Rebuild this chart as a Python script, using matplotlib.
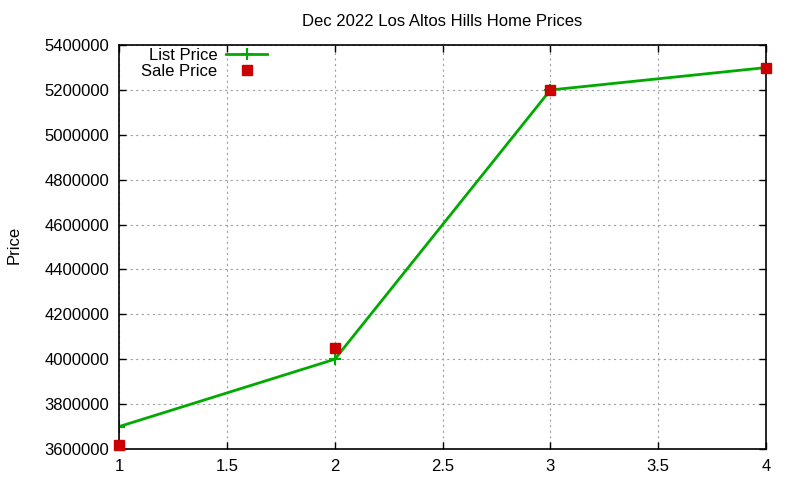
import matplotlib
matplotlib.use("Agg")
import matplotlib.pyplot as plt

x = [1, 2, 3, 4]
list_price = [3700000, 4000000, 5200000, 5300000]
sale_price = [3620000, 4050000, 5200000, 5300000]
yticks = list(range(3600000, 5400001, 200000))
xticks = [1, 1.5, 2, 2.5, 3, 3.5, 4]

plt.rcParams['font.family'] = ['Liberation Sans', 'DejaVu Sans']

fig = plt.figure(figsize=(8, 4.8), dpi=100)
ax = fig.add_axes([0.149, 0.0646, 0.8085, 0.8414])

ax.plot(x, list_price, color="#00aa00", linewidth=2, marker="+", markersize=8,
        markeredgewidth=1.5, label="List Price")
ax.plot(x, sale_price, color="#cc0000", linestyle="none", marker="s", markersize=7,
        label="Sale Price", clip_on=False, zorder=5)

ax.set_xlim(1, 4)
ax.set_ylim(3600000, 5400000)
ax.set_xticks(xticks)
ax.set_xticklabels(["1", "1.5", "2", "2.5", "3", "3.5", "4"])
ax.set_yticks(yticks)
ax.set_yticklabels([str(v) for v in yticks])
ax.tick_params(direction="in", top=True, right=True, length=5, labelsize=12, width=1, pad=7)
ax.grid(True, color="#a0a0a0", linestyle=(0, (2, 3)), linewidth=0.8)
for s in ax.spines.values():
    s.set_linewidth(1.2)

ax.set_title("Dec 2022 Los Altos Hills Home Prices", fontsize=12, pad=14)
fig.text(0.008, 0.49, "Price", rotation=90, fontsize=12, va="center")

ax.legend(loc="upper left", bbox_to_anchor=(0.016, 1.022), frameon=False,
          markerfirst=False, fontsize=12, handlelength=2.5, labelspacing=0.05,
          borderaxespad=0.3, handletextpad=0.5)
leg = ax.get_legend()
for t in leg.get_texts():
    t.set_ha("right")

fig.savefig("out.png")
